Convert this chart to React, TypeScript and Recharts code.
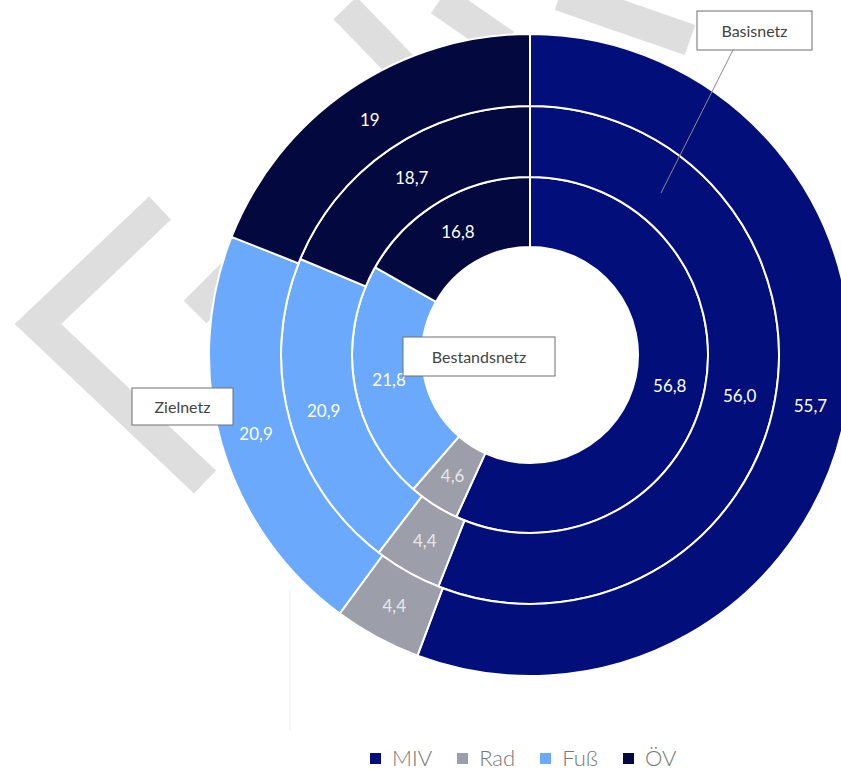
import React from "react";
import { PieChart, Pie, Cell, Legend } from "recharts";

const categories = ["MIV", "Rad", "Fuß", "ÖV"];
const bestandsnetz = [56.8, 4.6, 21.8, 16.8];
const basisnetz = [56.0, 4.4, 20.9, 18.7];
const zielnetz = [55.7, 4.4, 20.9, 19];
const bestandsLabels = ["56,8", "4,6", "21,8", "16,8"];
const basisLabels = ["56,0", "4,4", "20,9", "18,7"];
const zielLabels = ["55,7", "4,4", "20,9", "19"];

const COLORS = ["#020f7a", "#9c9fa9", "#6aa9fc", "#03083f"];
const FONT = "Lato, 'Open Sans', sans-serif";
const RADIAN = Math.PI / 180;

const toRows = (values: number[], labels: string[]) =>
  categories.map((name, i) => ({ name, value: values[i], label: labels[i] }));

const innerData = toRows(bestandsnetz, bestandsLabels);
const middleData = toRows(basisnetz, basisLabels);
const outerData = toRows(zielnetz, zielLabels);

function renderLabel(props: any) {
  const { cx, cy, midAngle, innerRadius, outerRadius, index, payload } = props;
  const r = (innerRadius + outerRadius) / 2;
  const x = cx + r * Math.cos(-midAngle * RADIAN);
  const y = cy + r * Math.sin(-midAngle * RADIAN);
  return (
    <text
      x={x}
      y={y}
      fill={index === 1 ? "#e6e7ec" : "#ffffff"}
      fontSize={17}
      fontFamily={FONT}
      textAnchor="middle"
      dominantBaseline="central"
    >
      {payload.label}
    </text>
  );
}

function renderLegend() {
  return (
    <div style={{ display: "flex", alignItems: "center", paddingLeft: 370, fontFamily: FONT }}>
      {categories.map((c, i) => (
        <div key={c} style={{ display: "flex", alignItems: "center", marginRight: 25 }}>
          <span style={{ width: 11, height: 11, background: COLORS[i], display: "inline-block", marginRight: 11 }} />
          <span style={{ fontSize: 22, color: "#777", fontWeight: 300, lineHeight: "22px" }}>{c}</span>
        </div>
      ))}
    </div>
  );
}

function Callout({ x, y, w, h, text }: { x: number; y: number; w: number; h: number; text: string }) {
  return (
    <g>
      <rect x={x} y={y} width={w} height={h} fill="#fff" stroke="#6f6f6f" strokeWidth={1} />
      <text x={x + w / 2} y={y + h / 2} textAnchor="middle" dominantBaseline="central" fontSize={16} fill="#444" fontFamily={FONT}>
        {text}
      </text>
    </g>
  );
}

const ringProps = {
  dataKey: "value",
  cx: 530,
  cy: 355,
  startAngle: 90,
  endAngle: -270,
  stroke: "#fff",
  strokeWidth: 2,
  labelLine: false,
  isAnimationActive: false,
};

export default function App() {
  return (
    <div style={{ position: "absolute", left: 0, top: 0, width: 841, height: 770, background: "#fff" }}>
      {/* watermark behind the chart */}
      <svg width={841} height={770} style={{ position: "absolute", left: 0, top: 0 }}>
        <g stroke="#dedede" fill="none" strokeWidth={32} strokeLinejoin="miter">
          <polyline points="160,208 38,324 205,482" />
          <polyline points="245,262 195,312" />
          <polyline points="345,8 405,70" />
          <polyline points="440,0 505,45" />
          <polyline points="560,-5 690,40" />
        </g>
        <line x1={290} y1={590} x2={290} y2={730} stroke="#eeeeee" strokeWidth={1} />
      </svg>
      <div style={{ position: "absolute", left: 0, top: 0 }}>
        <PieChart width={841} height={770} margin={{ top: 0, right: 0, bottom: 0, left: 0 }}>
          <Pie {...ringProps} data={innerData} innerRadius={108} outerRadius={178} label={renderLabel}>
            {innerData.map((d, i) => (
              <Cell key={d.name} fill={COLORS[i]} />
            ))}
          </Pie>
          <Pie {...ringProps} data={middleData} innerRadius={178} outerRadius={249} label={renderLabel}>
            {middleData.map((d, i) => (
              <Cell key={d.name} fill={COLORS[i]} />
            ))}
          </Pie>
          <Pie {...ringProps} data={outerData} innerRadius={249} outerRadius={321} label={renderLabel}>
            {outerData.map((d, i) => (
              <Cell key={d.name} fill={COLORS[i]} />
            ))}
          </Pie>
          <Legend content={renderLegend} wrapperStyle={{ left: 0, top: 747, width: 841 }} />
        </PieChart>
      </div>
      {/* ring callouts */}
      <svg width={841} height={770} style={{ position: "absolute", left: 0, top: 0, pointerEvents: "none" }}>
        <line x1={733} y1={50} x2={661} y2={193} stroke="#8a8a8a" strokeWidth={1} />
        <Callout x={697} y={11} w={115} h={39} text="Basisnetz" />
        <Callout x={403} y={337} w={152} h={39} text="Bestandsnetz" />
        <Callout x={132} y={388} w={101} h={37} text="Zielnetz" />
      </svg>
    </div>
  );
}
